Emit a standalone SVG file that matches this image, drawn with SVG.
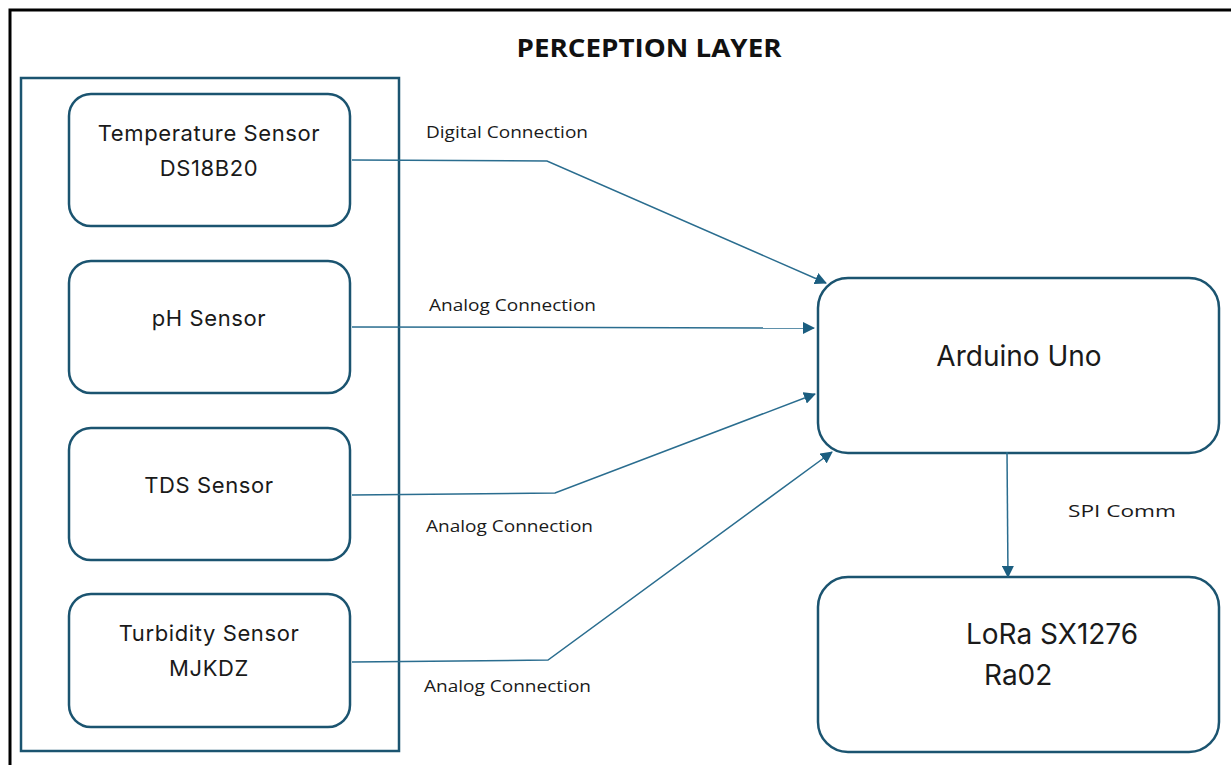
<svg xmlns="http://www.w3.org/2000/svg" width="1231" height="765" viewBox="0 0 1231 765">
<style>
.node{fill:#fff;stroke:#1b5470;stroke-width:2.5}
.ntext{font-family:"Inter","Noto Sans",sans-serif;font-size:22px;letter-spacing:0.6px;fill:#1a1a1a;text-anchor:middle}
.btext{font-family:"Inter","Noto Sans",sans-serif;font-size:28px;fill:#1a1a1a}
.lbl{font-family:"Open Sans","Noto Sans",sans-serif;font-size:16px;fill:#1a1a1a}
.conn{fill:none;stroke:#2a6d8f;stroke-width:1.5}
</style>
<defs>
<marker id="arr" markerWidth="12" markerHeight="12" refX="11" refY="6" orient="auto" markerUnits="userSpaceOnUse" viewBox="0 0 12 12">
<path d="M0,0 L12,6 L0,12 z" fill="#1b5e80"/>
</marker>
</defs>
<rect x="0" y="0" width="1231" height="765" fill="#fff"/>
<rect x="10" y="10" width="1240" height="780" fill="none" stroke="#000" stroke-width="3"/>
<text x="649" y="57" font-family="Open Sans, Noto Sans, sans-serif" font-weight="bold" font-size="25" text-anchor="middle" fill="#111" textLength="265" lengthAdjust="spacingAndGlyphs">PERCEPTION  LAYER</text>
<g id="container">
<rect x="21" y="78" width="378" height="673" fill="none" stroke="#1b5470" stroke-width="2.5"/>
</g>
<g id="temp">
<rect class="node" x="69" y="94" width="281" height="132" rx="22"/>
<text class="ntext" x="209" y="141">Temperature Sensor</text>
<text class="ntext" x="209" y="176">DS18B20</text>
</g>
<g id="ph">
<rect class="node" x="69" y="261" width="281" height="132" rx="22"/>
<text class="ntext" x="209" y="326">pH Sensor</text>
</g>
<g id="tds">
<rect class="node" x="69" y="428" width="281" height="132" rx="22"/>
<text class="ntext" x="209" y="493">TDS Sensor</text>
</g>
<g id="turbidity">
<rect class="node" x="69" y="594" width="281" height="133" rx="22"/>
<text class="ntext" x="209" y="641">Turbidity Sensor</text>
<text class="ntext" x="209" y="676">MJKDZ</text>
</g>
<g id="arduino">
<rect class="node" x="818" y="278" width="401" height="175" rx="30"/>
<text class="btext" x="1019" y="366" text-anchor="middle">Arduino Uno</text>
</g>
<g id="lora">
<rect class="node" x="818" y="577" width="401" height="175" rx="30"/>
<text class="btext" x="966" y="644">LoRa SX1276</text>
<text class="btext" x="984" y="685">Ra02</text>
</g>
<g id="connectors">
<polyline class="conn" points="352,160 547,161 826,283" marker-end="url(#arr)"/>
<polyline class="conn" points="352,327 814,328" marker-end="url(#arr)"/>
<polyline class="conn" points="352,495 555,493 815,394" marker-end="url(#arr)"/>
<polyline class="conn" points="352,662 548,660 832,452" marker-end="url(#arr)"/>
<polyline class="conn" points="1007,452 1008,577" marker-end="url(#arr)"/>
<text class="lbl" x="426" y="138" textLength="162" lengthAdjust="spacingAndGlyphs">Digital Connection</text>
<text class="lbl" x="429" y="311" textLength="167" lengthAdjust="spacingAndGlyphs">Analog Connection</text>
<text class="lbl" x="426" y="532" textLength="167" lengthAdjust="spacingAndGlyphs">Analog Connection</text>
<text class="lbl" x="424" y="692" textLength="167" lengthAdjust="spacingAndGlyphs">Analog Connection</text>
<text class="lbl" x="1068" y="517" textLength="108" lengthAdjust="spacingAndGlyphs">SPI  Comm</text>
</g>
</svg>
